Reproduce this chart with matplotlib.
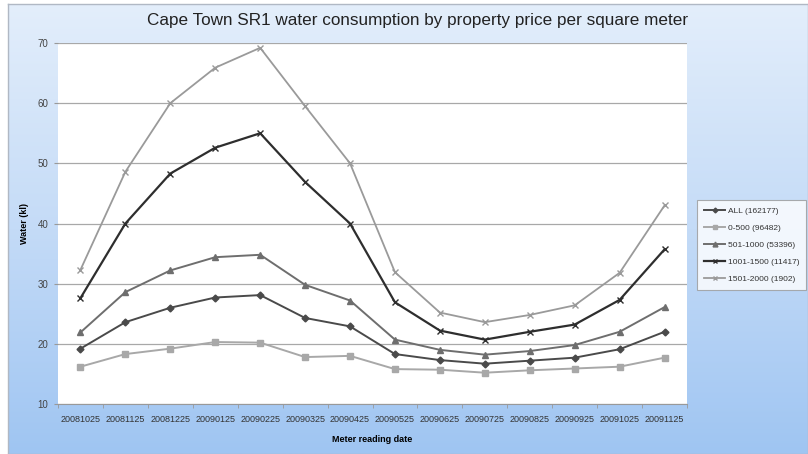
import numpy as np
import matplotlib.pyplot as plt
from matplotlib.colors import LinearSegmentedColormap

# Data
dates = ['20081025', '20081125', '20081225', '20090125', '20090225', '20090325', '20090425',
         '20090525', '20090625', '20090725', '20090825', '20090925', '20091025', '20091125']
all_vals = [19.2, 23.6, 26.0, 27.7, 28.1, 24.3, 22.9, 18.3, 17.3, 16.7, 17.2, 17.7, 19.1, 22.0]
p0_500 = [16.2, 18.3, 19.2, 20.3, 20.2, 17.8, 18.0, 15.8, 15.7, 15.2, 15.6, 15.9, 16.2, 17.7]
p501_1000 = [21.9, 28.6, 32.2, 34.4, 34.8, 29.8, 27.2, 20.7, 19.0, 18.2, 18.8, 19.8, 22.0, 26.1]
p1001_1500 = [27.6, 40.0, 48.3, 52.6, 55.0, 46.9, 40.0, 26.9, 22.2, 20.7, 22.0, 23.2, 27.3, 35.7]
p1501_2000 = [32.3, 48.6, 60.0, 65.9, 69.2, 59.5, 50.0, 31.9, 25.2, 23.6, 24.8, 26.4, 31.8, 43.0]
labels = ['ALL (162177)', '0-500 (96482)', '501-1000 (53396)', '1001-1500 (11417)', '1501-2000 (1902)']


def main():
    plt.rcParams['font.family'] = ['Liberation Sans', 'DejaVu Sans']
    fig = plt.figure(figsize=(8.08, 4.54), dpi=100)

    # Blue gradient chart background with a thin border
    bg = fig.add_axes([8 / 808, 0, 800 / 808, 1 - 4 / 454])
    cmap = LinearSegmentedColormap.from_list('bg', ['#e3eefb', '#c4dbf7', '#9fc5f2'])
    grad = np.linspace(0, 1, 256).reshape(-1, 1)
    bg.imshow(grad, aspect='auto', cmap=cmap, extent=[0, 1, 0, 1], origin='upper')
    bg.set_xticks([])
    bg.set_yticks([])
    for s in bg.spines.values():
        s.set_color('#b0b8c4')
        s.set_linewidth(1.0)

    ax = fig.add_axes([58 / 808, 1 - 404 / 454, 629 / 808, 361 / 454])
    ax.set_facecolor('white')

    x = np.arange(len(dates))
    styles = [
        (all_vals, '#4a4a4a', 'D', 3.5, 1.4),
        (p0_500, '#a8a8a8', 's', 5, 1.4),
        (p501_1000, '#6e6e6e', '^', 5, 1.4),
        (p1001_1500, '#2e2e2e', 'x', 5, 1.6),
        (p1501_2000, '#9a9a9a', 'x', 5, 1.3),
    ]
    for (vals, col, mk, ms, lw), lab in zip(styles, labels):
        ax.plot(x, vals, color=col, marker=mk, markersize=ms, linewidth=lw, label=lab,
                markeredgecolor=col, markerfacecolor=col)

    ax.set_xlim(-0.5, len(dates) - 0.5)
    ax.set_ylim(10, 70)
    ax.set_yticks(range(10, 71, 10))
    ax.set_xticks(x)
    ax.set_xticklabels(dates, fontsize=6.5, color='#333333')
    ax.set_xticks(np.arange(-0.5, len(dates), 1), minor=True)
    ax.tick_params(axis='x', which='major', length=0, pad=8)
    ax.tick_params(axis='x', which='minor', length=3, color='#999999')
    ax.tick_params(axis='y', labelsize=7, labelcolor='#444444', length=3, color='#999999', pad=4)
    ax.yaxis.grid(True, color='#a8a8a8', linewidth=0.9)
    ax.set_axisbelow(True)
    for side in ['top', 'right', 'left']:
        ax.spines[side].set_visible(False)
    ax.spines['bottom'].set_color('#999999')

    ax.set_xlabel('Meter reading date', fontsize=6.5, fontweight='bold', labelpad=8)
    ax.set_ylabel('Water (kl)', fontsize=6.5, fontweight='bold', labelpad=6)

    fig.text(418 / 808, 1 - 20 / 454, 'Cape Town SR1 water consumption by property price per square meter',
             ha='center', va='center', fontsize=12.3, color='#222222')

    leg = fig.legend(loc='center left', bbox_to_anchor=(697 / 808, 1 - 245 / 454), fontsize=6,
                     frameon=True, fancybox=False, edgecolor='#999999', handlelength=2.6,
                     handletextpad=0.3, labelspacing=1.1, borderpad=0.8, borderaxespad=0,
                     markerscale=0.7)
    leg.get_frame().set_linewidth(0.8)
    for t in leg.get_texts():
        t.set_color('#333333')

    fig.savefig('out.png', dpi=100)


main()
